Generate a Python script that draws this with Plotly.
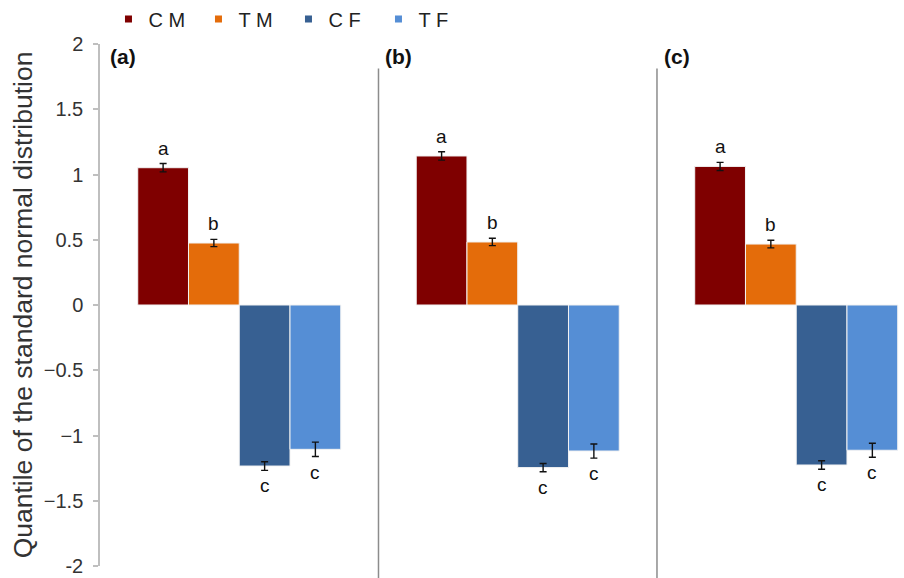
import plotly.graph_objects as go

# Panels and groups
panels = ["(a)", "(b)", "(c)"]
groups = ["C M", "T M", "C F", "T F"]
colors = ["#7f0000", "#e46c0a", "#376092", "#558ed5"]
group_letters = ["a", "b", "c", "c"]

# Mean quantiles per panel and their standard errors
cm = [1.052, 1.142, 1.062]
tm = [0.475, 0.483, 0.467]
cf = [-1.234, -1.246, -1.226]
tf = [-1.106, -1.119, -1.113]
cm_err = [0.032, 0.032, 0.031]
tm_err = [0.028, 0.028, 0.029]
cf_err = [0.033, 0.032, 0.033]
tf_err = [0.055, 0.054, 0.054]

ytick_vals = [-2, -1.5, -1, -0.5, 0, 0.5, 1, 1.5, 2]
ytick_text = ["-2", "\u22121.5", "\u22121", "\u22120.5", "0", "0.5", "1", "1.5", "2"]

values = [cm, tm, cf, tf]
errors = [cm_err, tm_err, cf_err, tf_err]

FONT = "Arial, Liberation Sans, sans-serif"
W, H = 904, 578
ML, MR, MT, MB = 100, 0, 44, 12
BARGAP = 0.271
X_RANGE = [-0.5, 2.387]

fig = go.Figure()

for name, col, vals, errs in zip(groups, colors, values, errors):
    fig.add_trace(go.Bar(
        x=panels, y=vals, name=name, showlegend=False,
        marker=dict(color=col, line=dict(color="#f2f2f2", width=1)),
        error_y=dict(type="data", array=errs, visible=True,
                     color="#111111", thickness=1.4, width=3.5),
    ))
    # small square legend key
    fig.add_trace(go.Scatter(
        x=[None], y=[None], mode="markers", name=name,
        marker=dict(symbol="square", size=7, color=col),
    ))

# significance letters beyond the error bars
plot_w = W - ML - MR
px_per_cat = plot_w / (X_RANGE[1] - X_RANGE[0])
bar_px = px_per_cat * (1 - BARGAP) / len(groups)
annotations = []
for i, (vals, errs, letter) in enumerate(zip(values, errors, group_letters)):
    for j, p in enumerate(panels):
        v, e = vals[j], errs[j]
        pos = v >= 0
        annotations.append(dict(
            x=p, y=v + e if pos else v - e, xref="x", yref="y",
            text=letter, showarrow=False,
            xshift=(i - (len(groups) - 1) / 2) * bar_px,
            yanchor="bottom" if pos else "top",
            yshift=3 if pos else -3,
            font=dict(family=FONT, size=19, color="#111111"),
        ))

# panel labels
for j, p in enumerate(panels):
    annotations.append(dict(
        x=j - 0.5, y=1.905, xref="x", yref="y", text="<b>%s</b>" % p,
        showarrow=False, xanchor="left", yanchor="middle",
        xshift=8 if j == 0 else 5,
        font=dict(family=FONT, size=21, color="#111111"),
    ))

# panel separators
shapes = []
for j in range(1, len(panels)):
    shapes.append(dict(
        type="line", xref="x", yref="paper", x0=j - 0.5, x1=j - 0.5,
        y0=-0.05, y1=0.953, line=dict(color="#8c8c8c", width=1.5),
    ))

fig.update_layout(
    width=W, height=H,
    margin=dict(l=ML, r=MR, t=MT, b=MB, autoexpand=False),
    paper_bgcolor="white", plot_bgcolor="white",
    barmode="group", bargap=BARGAP, bargroupgap=0,
    font=dict(family=FONT, color="#222222"),
    legend=dict(
        orientation="h", x=0.12, xanchor="left", y=0.967, yanchor="middle",
        yref="container", xref="container", entrywidth=45,
        entrywidthmode="pixels",
        font=dict(family=FONT, size=20, color="#222222"),
        bgcolor="rgba(0,0,0,0)", itemwidth=30,
    ),
    xaxis=dict(range=X_RANGE, showticklabels=False, showgrid=False,
               zeroline=False, showline=False, ticks=""),
    yaxis=dict(
        range=[-2, 2], tickvals=ytick_vals, ticktext=ytick_text,
        showgrid=False, zeroline=False, showline=True,
        linecolor="#bfbfbf", linewidth=1.5, ticks="outside", ticklen=5,
        tickcolor="#bfbfbf", tickwidth=1.5, ticklabelstandoff=6,
        tickfont=dict(family=FONT, size=20, color="#333333"),
        title=dict(text="Quantile of the standard normal distribution",
                   font=dict(family=FONT, size=26.5, color="#333333"),
                   standoff=3),
    ),
    annotations=annotations,
    shapes=shapes,
)

fig.write_html("out.html")
